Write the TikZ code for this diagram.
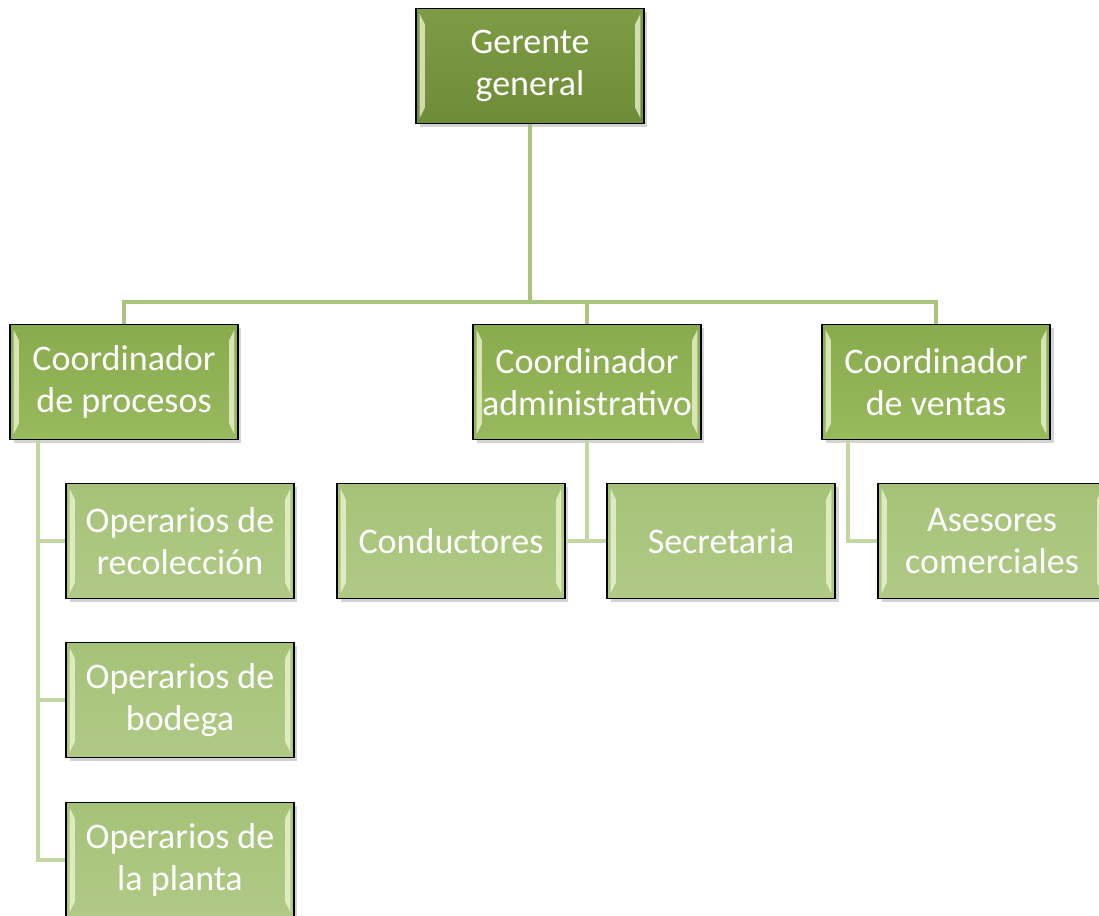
\documentclass[tikz,border=0pt]{standalone}
\usepackage{fontspec}
\setmainfont{Carlito}
\usetikzlibrary{shadows}

\definecolor{jefeA}{HTML}{7E9C45}
\definecolor{jefeB}{HTML}{6E8B37}
\definecolor{coordA}{HTML}{89AA4D}
\definecolor{coordB}{HTML}{98B95D}
\definecolor{operA}{HTML}{A6C278}
\definecolor{operB}{HTML}{B0CA86}
\definecolor{bisel}{HTML}{F2F7D6}
\definecolor{lineaalta}{HTML}{A9C47C}
\definecolor{lineabaja}{HTML}{C4D7A2}

\tikzset{
    cargo/.style={draw=black, line width=0.9pt, minimum width=4.56cm, minimum height=2.3cm,
        align=center, text=white, inner sep=1pt, font=\fontsize{20.5}{23.5}\selectfont,
        drop shadow={shadow xshift=2pt, shadow yshift=-2pt, opacity=0.35},
        path picture={
            \fill[bisel, opacity=0.75] ([shift={(2pt,-3pt)}]path picture bounding box.north west)
                -- ([shift={(5pt,-9pt)}]path picture bounding box.north west)
                -- ([shift={(5pt,9pt)}]path picture bounding box.south west)
                -- ([shift={(2pt,3pt)}]path picture bounding box.south west) -- cycle;
            \fill[bisel, opacity=0.75] ([shift={(-2pt,-3pt)}]path picture bounding box.north east)
                -- ([shift={(-5pt,-9pt)}]path picture bounding box.north east)
                -- ([shift={(-5pt,9pt)}]path picture bounding box.south east)
                -- ([shift={(-2pt,3pt)}]path picture bounding box.south east) -- cycle;
        }},
    jefe/.style={cargo, top color=jefeA, bottom color=jefeB},
    coord/.style={cargo, top color=coordA, bottom color=coordB},
    oper/.style={cargo, top color=operA, bottom color=operB},
    ramaalta/.style={draw=lineaalta, line width=2.8pt},
    ramabaja/.style={draw=lineabaja, line width=2.8pt}
}

\begin{document}
\begin{tikzpicture}[x=0.02cm, y=-0.02cm]
    \useasboundingbox (0,0) rectangle (1099,916);
    %\draw[lightgray] (0,0) grid[step=100] (1099,916);
    \node[jefe] (gerente) at (530,66) {Gerente\\general};
    \node[coord] (procesos) at (124,382) {Coordinador\\de procesos};
    \node[coord] (administrativo) at (587,382) {Coordinador\\administrativo};
    \node[coord] (ventas) at (936,382) {Coordinador\\de ventas};
    \node[oper] (recoleccion) at (180,541) {Operarios de\\recolección};
    \node[oper] (bodega) at (180,700) {Operarios de\\bodega};
    \node[oper] (planta) at (180,860) {Operarios de\\la planta};
    \node[oper] (conductores) at (451,541) {Conductores};
    \node[oper] (secretaria) at (721,541) {Secretaria};
    \node[oper] (asesores) at (992,541) {Asesores\\comerciales};

    \coordinate (barra) at (530,302);
    \coordinate (tronco) at (38,440);
    \coordinate (ventasbaja) at (848,440);

    % conectores
    \draw[ramaalta] (gerente.south) -- (barra);
    \draw[ramaalta] (procesos.north) |- (barra) -| (ventas.north);
    \draw[ramaalta] (administrativo.north) -- (administrativo.north |- barra);
    \draw[ramabaja] (tronco) |- (recoleccion.west);
    \draw[ramabaja] (tronco) |- (bodega.west);
    \draw[ramabaja] (tronco) |- (planta.west);
    \draw[ramabaja] (administrativo.south) |- (conductores.east);
    \draw[ramabaja] (administrativo.south |- secretaria.west) -- (secretaria.west);
    \draw[ramabaja] (ventasbaja) |- (asesores.west);
\end{tikzpicture}
\end{document}
